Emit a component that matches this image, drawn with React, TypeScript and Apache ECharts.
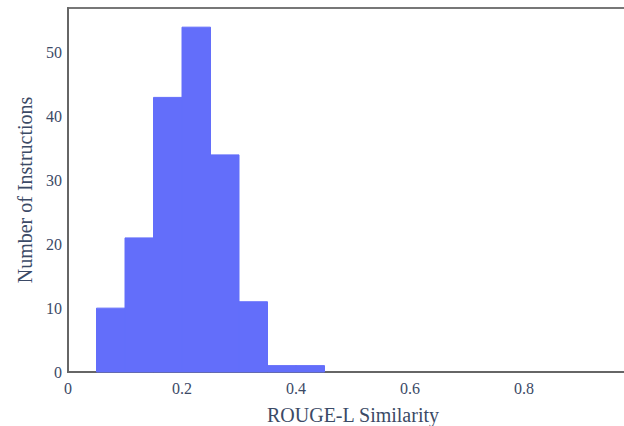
import React, { useEffect, useRef } from "react";
import * as echarts from "echarts";

const binStarts = [0.05, 0.1, 0.15, 0.2, 0.25, 0.3, 0.35, 0.4];
const binWidth = 0.05;
const counts = [10, 21, 43, 54, 34, 11, 1, 1];
const xTicks = [0, 0.2, 0.4, 0.6, 0.8];
const yTicks = [0, 10, 20, 30, 40, 50];

export default function App() {
  const ref = useRef<HTMLDivElement>(null);
  useEffect(() => {
    if (!ref.current) return;
    const chart = echarts.init(ref.current, undefined, { renderer: "svg" });
    const font = "Liberation Serif";
    const data = binStarts.map((s, i) => [s, s + binWidth, counts[i]]);
    chart.setOption({
      animation: false,
      grid: {
        left: 68,
        top: 8,
        bottom: 54,
        right: -14,
        outerBoundsMode: "none",
        containLabel: false,
        show: true,
        borderColor: "#777",
        borderWidth: 2,
        backgroundColor: "#fff",
      },
      xAxis: {
        type: "value",
        min: 0,
        max: 1,
        interval: 0.2,
        name: "ROUGE-L Similarity",
        nameLocation: "middle",
        nameGap: 33,
        nameTextStyle: { fontFamily: font, fontSize: 20, color: "#3b4a66" },
        axisLine: { show: true, lineStyle: { color: "#666", width: 2 } },
        axisTick: { show: false },
        splitLine: { show: false },
        axisLabel: {
          fontFamily: font,
          fontSize: 16,
          color: "#3b4a66",
          margin: 8,
          formatter: (v: number) => {
            const t = xTicks.find((x) => Math.abs(x - v) < 1e-9);
            return t === undefined ? "" : String(t);
          },
        },
      },
      yAxis: {
        type: "value",
        min: 0,
        max: 57,
        interval: 10,
        name: "Number of Instructions",
        nameLocation: "middle",
        nameGap: 30,
        nameTextStyle: { fontFamily: font, fontSize: 20, color: "#3b4a66" },
        axisLine: { show: true, lineStyle: { color: "#666", width: 2 } },
        axisTick: { show: false },
        splitLine: { show: false },
        axisLabel: {
          fontFamily: font,
          fontSize: 16,
          color: "#3b4a66",
          margin: 6,
          formatter: (v: number) => (yTicks.includes(v) ? String(v) : ""),
        },
      },
      series: [
        {
          type: "custom",
          data,
          encode: { x: [0, 1], y: 2 },
          renderItem: (params: any, api: any) => {
            const p0 = api.coord([api.value(0), api.value(2)]);
            const p1 = api.coord([api.value(1), 0]);
            return {
              type: "rect",
              shape: { x: p0[0], y: p0[1], width: p1[0] - p0[0], height: p1[1] - p0[1] },
              style: { fill: "#636efa", stroke: "#636efa", lineWidth: 1 },
            };
          },
          z: 1,
        },
      ],
    });
    return () => chart.dispose();
  }, []);
  return <div ref={ref} style={{ width: 624, height: 426, position: "absolute", left: 0, top: 0 }} />;
}
